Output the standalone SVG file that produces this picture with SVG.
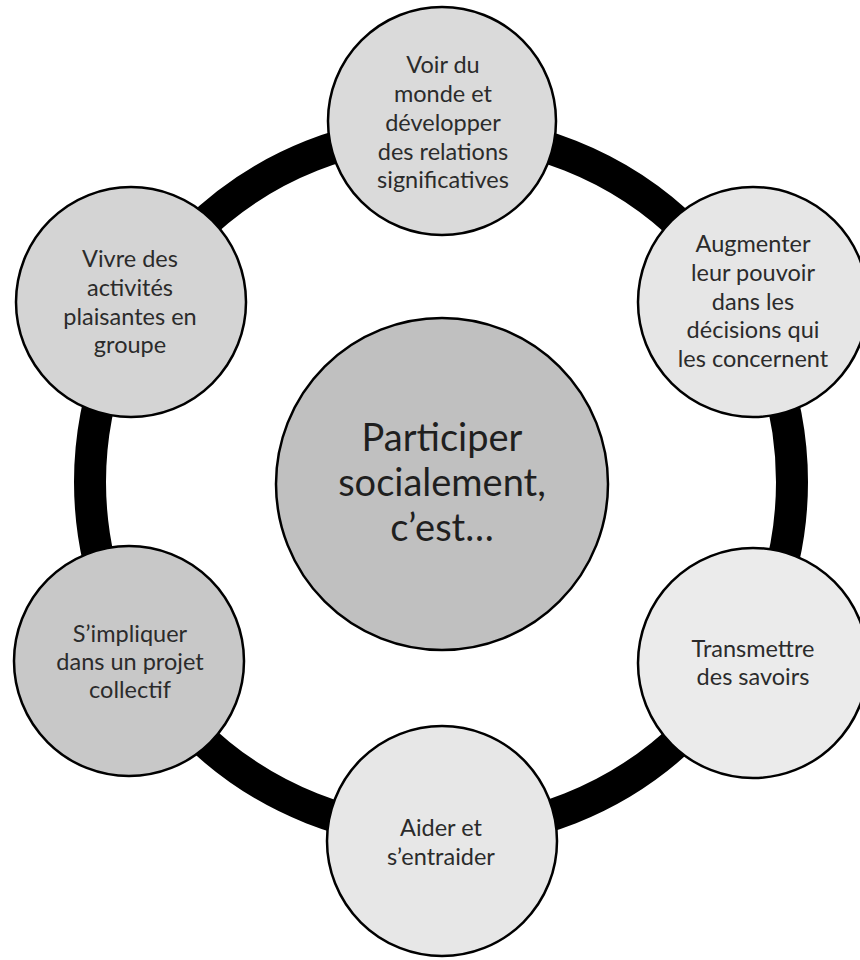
<svg xmlns="http://www.w3.org/2000/svg" width="860" height="960" viewBox="0 0 860 960">
  <style>
    .node { stroke: #000; stroke-width: 2.5; }
    .lbl { font-family: Lato, "Liberation Sans", sans-serif; font-size: 23.5px; fill: #2b2b2b; text-anchor: middle; }
    .big { font-family: Lato, "Liberation Sans", sans-serif; font-size: 38px; fill: #1f1f1f; text-anchor: middle; }
  </style>
  <rect width="860" height="960" fill="#fff"/>
  <g id="connectors">
    <circle cx="441" cy="482" r="351" fill="none" stroke="#000" stroke-width="32"/>
  </g>
  <g id="node-top">
    <circle class="node" cx="442" cy="121" r="114" fill="#dadada"/>
    <text class="lbl" x="443" y="73">Voir du</text>
    <text class="lbl" x="443" y="102">monde et</text>
    <text class="lbl" x="443" y="131">développer</text>
    <text class="lbl" x="443" y="160">des relations</text>
    <text class="lbl" x="443" y="188">significatives</text>
  </g>
  <g id="node-right-top">
    <circle class="node" cx="753" cy="302" r="115" fill="#e6e6e6"/>
    <text class="lbl" x="753" y="252">Augmenter</text>
    <text class="lbl" x="753" y="281">leur pouvoir</text>
    <text class="lbl" x="753" y="310">dans les</text>
    <text class="lbl" x="753" y="338">décisions qui</text>
    <text class="lbl" x="753" y="367">les concernent</text>
  </g>
  <g id="node-right-bottom">
    <circle class="node" cx="753" cy="663" r="115" fill="#ebebeb"/>
    <text class="lbl" x="753" y="657">Transmettre</text>
    <text class="lbl" x="753" y="685">des savoirs</text>
  </g>
  <g id="node-bottom">
    <circle class="node" cx="442" cy="841" r="115" fill="#e7e7e7"/>
    <text class="lbl" x="441" y="836">Aider et</text>
    <text class="lbl" x="441" y="865">s’entraider</text>
  </g>
  <g id="node-left-bottom">
    <circle class="node" cx="129" cy="661" r="115" fill="#c8c8c8"/>
    <text class="lbl" x="130" y="642">S’impliquer</text>
    <text class="lbl" x="130" y="670">dans un projet</text>
    <text class="lbl" x="130" y="698">collectif</text>
  </g>
  <g id="node-left-top">
    <circle class="node" cx="131" cy="302" r="115" fill="#d4d4d4"/>
    <text class="lbl" x="130" y="267">Vivre des</text>
    <text class="lbl" x="130" y="296">activités</text>
    <text class="lbl" x="130" y="325">plaisantes en</text>
    <text class="lbl" x="130" y="353">groupe</text>
  </g>
  <g id="node-center">
    <circle class="node" cx="442" cy="484" r="166" fill="#c0c0c0"/>
    <text class="big" x="442" y="451">Participer</text>
    <text class="big" x="442" y="496">socialement,</text>
    <text class="big" x="442" y="541">c’est…</text>
  </g>
</svg>
